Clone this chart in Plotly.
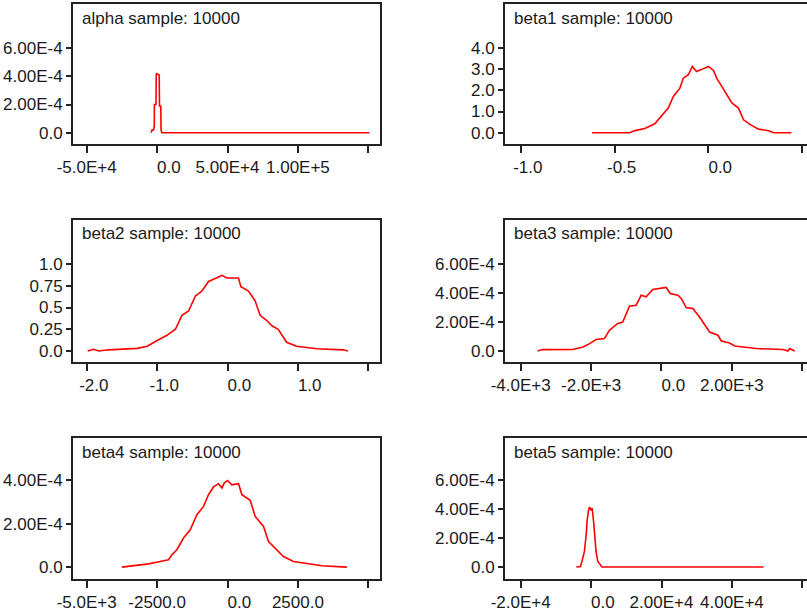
import plotly.graph_objects as go

W, H = 807, 612

# ---------------- data ----------------
alpha_x = [-4300, -3500, -2500, -2000, -1900, -800, -600, -100, 400, 1500, 1700, 2600, 2800, 3400, 150800]
alpha_y = [0, 0.2e-4, 0.2e-4, 0.5e-4, 2.0e-4, 2.0e-4, 4.15e-4, 4.2e-4, 4.15e-4, 4.1e-4, 1.9e-4, 1.9e-4, 0.2e-4, 0, 0]

beta1_x = [-0.620, -0.419, -0.392, -0.339, -0.286, -0.259, -0.214, -0.187, -0.152, -0.134, -0.107, -0.086,
           -0.063, -0.041, -0.018, 0.0, 0.027, 0.044, 0.071, 0.098, 0.125, 0.160, 0.187, 0.223, 0.267,
           0.321, 0.348, 0.442]
beta1_y = [0, 0, 0.1, 0.2, 0.42, 0.69, 1.16, 1.71, 2.10, 2.57, 2.73, 3.12,
           2.88, 2.96, 3.04, 3.12, 2.93, 2.57, 2.18, 1.79, 1.40, 1.16, 0.61, 0.38, 0.17,
           0.09, 0, 0]

beta2_x = [-1.986, -1.90, -1.83, -1.69, -1.285, -1.14, -1.0, -0.86, -0.74, -0.647, -0.553, -0.458, -0.363,
           -0.27, -0.16, -0.08, -0.009, 0.085, 0.156, 0.19, 0.298, 0.39, 0.464, 0.558, 0.63, 0.72, 0.84,
           0.98, 1.27, 1.645, 1.71]
beta2_y = [0, 0.02, 0, 0.013, 0.03, 0.055, 0.12, 0.18, 0.25, 0.41, 0.46, 0.63, 0.69,
           0.80, 0.84, 0.87, 0.84, 0.84, 0.84, 0.74, 0.69, 0.58, 0.41, 0.35, 0.29, 0.25, 0.10,
           0.055, 0.025, 0.013, 0]

beta3_x = [-3520, -3377, -2523, -2230, -2040, -1858, -1622, -1479, -1242, -1100, -910, -720, -578, -435,
           -247, 38, 133, 247, 464, 560, 702, 892, 1081, 1366, 1603, 1700, 1935, 2078, 2695, 3452,
           3594, 3640, 3785]
beta3_y = [0, 0.97e-5, 1.0e-5, 2.8e-5, 5.1e-5, 7.9e-5, 8.6e-5, 14.3e-5, 19e-5, 20e-5, 31e-5, 31.6e-5,
           38.5e-5, 37.4e-5, 42.5e-5, 43.2e-5, 43.9e-5, 39.7e-5, 38.5e-5, 36.3e-5, 30e-5, 29.3e-5,
           23.5e-5, 13.1e-5, 10.9e-5, 6.9e-5, 5.5e-5, 3.5e-5, 1.7e-5, 1.0e-5, 0, 1.7e-5, 0]

beta4_x = [-3750, -3277, -2805, -2390, -2095, -1974, -1797, -1562, -1324, -1087, -852, -675, -497, -320,
           -199, -117, 0, 156, 391, 511, 806, 983, 1278, 1456, 1754, 1988, 2343, 2818, 3351, 4239]
beta4_y = [0, 0.6e-5, 1.5e-5, 2.6e-5, 3.4e-5, 5.7e-5, 8e-5, 13.4e-5, 17.2e-5, 24.2e-5, 28e-5, 33.4e-5,
           37e-5, 38.5e-5, 36.5e-5, 38.8e-5, 40e-5, 38e-5, 38.5e-5, 33.4e-5, 30.8e-5, 23.4e-5, 18.8e-5,
           11.8e-5, 8e-5, 4.9e-5, 2.6e-5, 1.5e-5, 0.6e-5, 0]

beta5_x = [-4200, -3000, -2600, -1900, -1350, -1150, -700, -400, 0, 300, 750, 1000, 1400, 1900, 2800, 3100, 49000]
beta5_y = [0, 0.4e-5, 3.9e-5, 1.08e-4, 2.36e-4, 3.16e-4, 3.97e-4, 4.16e-4, 3.92e-4, 4.09e-4, 3.05e-4,
           2.36e-4, 1.08e-4, 0.39e-4, 0.09e-4, 0, 0]

titles = ["alpha sample: 10000", "beta1 sample: 10000", "beta2 sample: 10000",
          "beta3 sample: 10000", "beta4 sample: 10000", "beta5 sample: 10000"]

alpha_xticks = [-5e4, 0, 5e4, 1e5, 1.5e5]
alpha_xlabels = ["-5.0E+4", "0.0", "5.00E+4", "1.00E+5", ""]
alpha_yticks = [0, 2e-4, 4e-4, 6e-4]
alpha_ylabels = ["0.0", "2.00E-4", "4.00E-4", "6.00E-4"]

beta1_xticks = [-1.0, -0.5, 0.0, 0.5]
beta1_xlabels = ["-1.0", "-0.5", "0.0", ""]
beta1_yticks = [0, 1, 2, 3, 4]
beta1_ylabels = ["0.0", "1.0", "2.0", "3.0", "4.0"]

beta2_xticks = [-2.0, -1.0, 0.0, 1.0, 2.0]
beta2_xlabels = ["-2.0", "-1.0", "0.0", "1.0", ""]
beta2_yticks = [0, 0.25, 0.5, 0.75, 1.0]
beta2_ylabels = ["0.0", "0.25", "0.5", "0.75", "1.0"]

beta3_xticks = [-4000, -2000, 0, 2000, 4000]
beta3_xlabels = ["-4.0E+3", "-2.0E+3", "0.0", "2.00E+3", ""]
beta3_yticks = [0, 2e-4, 4e-4, 6e-4]
beta3_ylabels = ["0.0", "2.00E-4", "4.00E-4", "6.00E-4"]

beta4_xticks = [-5000, -2500, 0, 2500, 5000]
beta4_xlabels = ["-5.0E+3", "-2500.0", "0.0", "2500.0", ""]
beta4_yticks = [0, 2e-4, 4e-4]
beta4_ylabels = ["0.0", "2.00E-4", "4.00E-4"]

beta5_xticks = [-2e4, 0, 2e4, 4e4, 6e4]
beta5_xlabels = ["-2.0E+4", "0.0", "2.00E+4", "4.00E+4", ""]
beta5_yticks = [0, 2e-4, 4e-4, 6e-4]
beta5_ylabels = ["0.0", "2.00E-4", "4.00E-4", "6.00E-4"]

# ---------------- layout (pixel geometry) ----------------
COLS = [(73, 380), (505, 807)]
ROWS = [(4, 144), (220, 362), (438, 579)]

panels = [
    dict(x=alpha_x, y=alpha_y, r=0, c=0, xr=[-59730, 158310], yr=[-8.0e-5, 9.13e-4],
         xt=alpha_xticks, xl=alpha_xlabels, yt=alpha_yticks, yl=alpha_ylabels),
    dict(x=beta1_x, y=beta1_y, r=0, c=1, xr=[-1.0836, 0.525], yr=[-0.53, 6.06],
         xt=beta1_xticks, xl=beta1_xlabels, yt=beta1_yticks, yl=beta1_ylabels),
    dict(x=beta2_x, y=beta2_y, r=1, c=0, xr=[-2.195, 2.166], yr=[-0.127, 1.507],
         xt=beta2_xticks, xl=beta2_xlabels, yt=beta2_yticks, yl=beta2_ylabels),
    dict(x=beta3_x, y=beta3_y, r=1, c=1, xr=[-4446, 4134], yr=[-7.6e-5, 9.05e-4],
         xt=beta3_xticks, xl=beta3_xlabels, yt=beta3_yticks, yl=beta3_ylabels),
    dict(x=beta4_x, y=beta4_y, r=2, c=0, xr=[-5486, 5415], yr=[-5.5e-5, 5.96e-4],
         xt=beta4_xticks, xl=beta4_xlabels, yt=beta4_yticks, yl=beta4_ylabels),
    dict(x=beta5_x, y=beta5_y, r=2, c=1, xr=[-24460, 61335], yr=[-8.3e-5, 8.94e-4],
         xt=beta5_xticks, xl=beta5_xlabels, yt=beta5_yticks, yl=beta5_ylabels),
]

FONT = "Liberation Sans, Arial, sans-serif"
FS = 17
TXT = "#1a1a1a"
AX = "#222222"
NB = "\u00a0"


def pad_label(s):
    # WinBUGS shifts short labels to the right of their tick
    if 0 < len(s) <= 3:
        return NB * 5 + s
    if len(s) == 4:
        return NB * 3 + s
    return s


fig = go.Figure()
layout = {}
annotations = []
for i, p in enumerate(panels):
    n = i + 1
    xs = "" if n == 1 else str(n)
    x0, x1 = COLS[p["c"]]
    y0, y1 = ROWS[p["r"]]
    fig.add_trace(go.Scatter(x=p["x"], y=p["y"], mode="lines",
                             line=dict(color="#ff0000", width=1.6),
                             xaxis="x" + xs, yaxis="y" + xs, hoverinfo="skip"))
    layout["xaxis" + xs] = dict(
        domain=[x0 / W, x1 / W], range=p["xr"], anchor="y" + xs, automargin=False,
        tickmode="array", tickvals=p["xt"], ticktext=[pad_label(s) for s in p["xl"]],
        ticks="outside", ticklen=7, tickwidth=2, tickcolor=AX,
        showline=True, linewidth=2, linecolor=AX, mirror=True,
        showgrid=False, zeroline=False,
        tickfont=dict(family=FONT, size=FS, color=TXT), fixedrange=True)
    layout["yaxis" + xs] = dict(
        domain=[1 - y1 / H, 1 - y0 / H], range=p["yr"], anchor="x" + xs, automargin=False,
        tickmode="array", tickvals=p["yt"], ticktext=p["yl"],
        ticks="outside", ticklen=5, tickwidth=2, tickcolor=AX,
        showline=True, linewidth=2, linecolor=AX, mirror=(p["c"] == 0),
        showgrid=False, zeroline=False,
        tickfont=dict(family=FONT, size=FS, color=TXT), fixedrange=True)
    annotations.append(dict(
        text=titles[i], xref="paper", yref="paper",
        x=(x0 + 7) / W, y=1 - (y0 + 14) / H, xanchor="left", yanchor="middle",
        showarrow=False, font=dict(family=FONT, size=FS, color=TXT)))

fig.update_layout(**layout)
fig.update_layout(width=W, height=H, margin=dict(l=0, r=0, t=0, b=0, autoexpand=False),
                  paper_bgcolor="white", plot_bgcolor="white",
                  showlegend=False, annotations=annotations)

fig.write_html("out.html", config={"displayModeBar": False},
               post_script="document.body.style.margin='0px';document.body.style.overflow='hidden';")
